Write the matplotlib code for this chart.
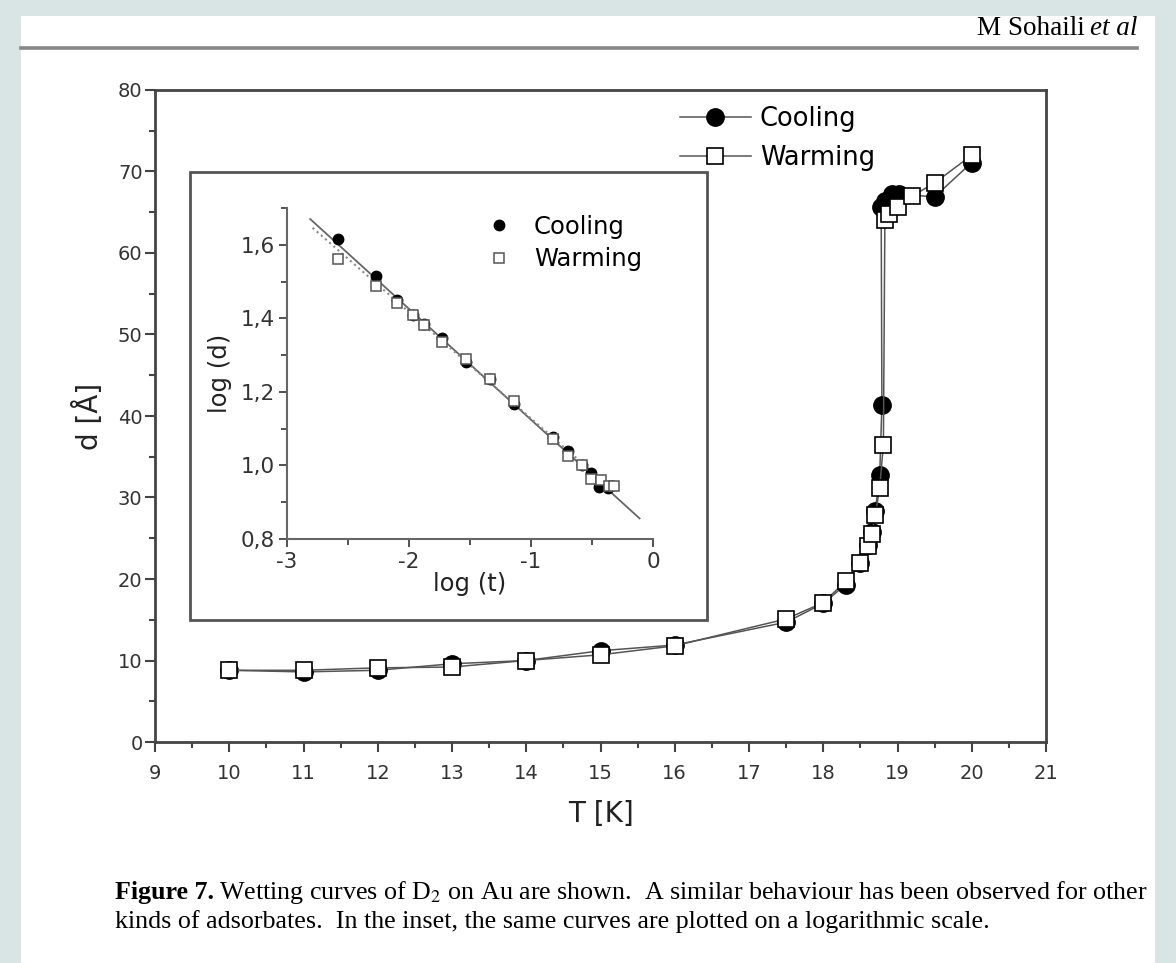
import matplotlib
matplotlib.use("Agg")
import matplotlib.pyplot as plt
from matplotlib.lines import Line2D
from matplotlib.patches import Rectangle
from matplotlib.ticker import MultipleLocator, FuncFormatter

W, H = 1176, 963

# main panel: d [A] vs T [K]
T_cool = [10, 11, 12, 13, 14, 15, 16, 17.5, 18, 18.3, 18.5, 18.6, 18.65, 18.7,
          18.76, 18.79, 18.78, 18.83, 18.92, 19.02, 19.5, 20]
d_cool = [8.8, 8.6, 8.8, 9.6, 10.0, 11.2, 11.9, 14.7, 17.0, 19.3, 22.0, 24.2, 25.8, 28.3,
          32.7, 41.3, 65.6, 66.4, 67.2, 67.2, 66.9, 71.1]
T_warm = [10, 11, 12, 13, 14, 15, 16, 17.5, 18, 18.3, 18.5, 18.6, 18.65, 18.7,
          18.76, 18.81, 18.83, 18.88, 19.0, 19.2, 19.5, 20]
d_warm = [8.8, 8.8, 9.1, 9.2, 10.0, 10.7, 11.8, 15.1, 17.1, 19.7, 22.0, 24.0, 25.5, 27.8,
          31.2, 36.5, 64.0, 64.8, 65.6, 67.0, 68.6, 72.0]

# inset: log(d) vs log(t)
lt_cool = [-2.58, -2.27, -2.10, -1.97, -1.88, -1.727, -1.535, -1.34, -1.14, -0.817,
           -0.694, -0.585, -0.508, -0.44, -0.37]
ld_cool = [1.616, 1.514, 1.450, 1.408, 1.385, 1.346, 1.282, 1.235, 1.167, 1.077,
           1.040, 1.001, 0.980, 0.942, 0.938]
lt_warm = [-2.58, -2.27, -2.10, -1.97, -1.88, -1.727, -1.535, -1.34, -1.14, -0.817,
           -0.694, -0.585, -0.508, -0.43, -0.36, -0.32]
ld_warm = [1.561, 1.489, 1.443, 1.410, 1.383, 1.337, 1.290, 1.235, 1.176, 1.072,
           1.027, 1.001, 0.963, 0.960, 0.945, 0.943]
fit_cool_x = [-2.81, -0.11]
fit_cool_y = [1.670, 0.856]
fit_warm_x = [-2.79, -0.30]
fit_warm_y = [1.646, 0.925]

plt.rcParams["axes.unicode_minus"] = False
plt.rcParams["mathtext.fontset"] = "stix"
SANS = "DejaVu Sans"
SERIF = "Liberation Serif"
AX = "#444444"
LN = "#555555"

fig = plt.figure(figsize=(W / 100, H / 100), dpi=100)
fig.patch.set_facecolor("#d9e4e4")
fig.add_artist(Rectangle((21 / W, 0), (1155 - 21) / W, (H - 16) / H,
                         transform=fig.transFigure, facecolor="white",
                         edgecolor="none", zorder=-5))

# header
fig.add_artist(Line2D([21 / W, 1137 / W], [1 - 48 / H] * 2, transform=fig.transFigure,
                      color="#888888", lw=2.6))
r = fig.canvas.get_renderer()
t_et = fig.text(1137 / W, 1 - 35 / H, "et al", family=SERIF, style="italic",
                fontsize=19.5, ha="right", va="baseline")
x0 = t_et.get_window_extent(r).x0
fig.text((x0 - 5) / W, 1 - 35 / H, "M Sohaili", family=SERIF, fontsize=19.5,
         ha="right", va="baseline")

# main axes
ax = fig.add_axes([155 / W, 1 - 742 / H, 891 / W, 652 / H])
ax.plot(T_cool, d_cool, "-", color=LN, lw=1.1, marker="o", ms=12.5,
        mfc="black", mec="black", zorder=3)
ax.plot(T_warm, d_warm, "-", color=LN, lw=1.1, marker="s", ms=11,
        mfc="white", mec="black", mew=1.2, zorder=4)
ax.set_xlim(9, 21)
ax.set_ylim(0, 80)
ax.xaxis.set_major_locator(MultipleLocator(1))
ax.xaxis.set_minor_locator(MultipleLocator(0.5))
ax.yaxis.set_major_locator(MultipleLocator(10))
ax.yaxis.set_minor_locator(MultipleLocator(5))
ax.tick_params(which="both", direction="out", color=AX, width=1.5,
               labelsize=14, labelcolor="#333333")
ax.tick_params(which="major", length=7)
ax.tick_params(which="minor", length=4)
ax.tick_params(axis="x", pad=9)
ax.tick_params(axis="y", pad=2)
for s in ax.spines.values():
    s.set_color(AX)
    s.set_linewidth(2)
ax.set_xlabel("T [K]", family=SANS, fontsize=20, color="#222222", labelpad=12)
ax.set_ylabel("d [Å]", family=SANS, fontsize=20, color="#222222", labelpad=10)

handles = [
    Line2D([], [], color=LN, lw=1.1, marker="o", ms=12.5, mfc="black", mec="black"),
    Line2D([], [], color=LN, lw=1.1, marker="s", ms=11, mfc="white", mec="black", mew=1.2),
]
ax.legend(handles, ["Cooling", "Warming"], loc="upper left",
          bbox_to_anchor=(680 / W, 1 - 106 / H), bbox_transform=fig.transFigure,
          frameon=False, borderpad=0, borderaxespad=0, handlelength=2.75,
          handletextpad=0.35, labelspacing=0.5,
          prop={"family": SANS, "size": 18.5})

# inset box and axes
fig.add_artist(Rectangle((190 / W, 1 - 620 / H), (707 - 190) / W, (620 - 172) / H,
                         transform=fig.transFigure, facecolor="white",
                         edgecolor=LN, lw=2, zorder=1))
ins = fig.add_axes([287 / W, 1 - 539 / H, 366 / W, 331 / H], zorder=2)
ins.patch.set_alpha(0)
ins.plot(fit_cool_x, fit_cool_y, "-", color="#666666", lw=1.3, zorder=2)
ins.plot(fit_warm_x, fit_warm_y, ":", color="#888888", lw=1.5, zorder=2)
ins.plot(lt_cool, ld_cool, "o", ms=7.5, mfc="black", mec="black", zorder=3,
         label="Cooling")
ins.plot(lt_warm, ld_warm, "s", ms=6.5, mfc="white", mec="#555555", mew=1.1,
         zorder=4, label="Warming")
ins.set_xlim(-3, 0)
ins.set_ylim(0.8, 1.7)
ins.xaxis.set_major_locator(MultipleLocator(1))
ins.xaxis.set_minor_locator(MultipleLocator(0.5))
ins.yaxis.set_major_locator(MultipleLocator(0.2))
ins.yaxis.set_minor_locator(MultipleLocator(0.1))
ins.yaxis.set_major_formatter(FuncFormatter(lambda v, p: f"{v:.1f}".replace(".", ",")))
ins.xaxis.set_major_formatter(FuncFormatter(lambda v, p: f"{v:.0f}"))
ins.tick_params(which="both", direction="out", color=AX, width=1.3,
                labelsize=15.5, labelcolor="#333333", pad=3)
ins.tick_params(which="major", length=6)
ins.tick_params(which="minor", length=4)
ins.spines["top"].set_visible(False)
ins.spines["right"].set_visible(False)
for s in ("left", "bottom"):
    ins.spines[s].set_color("#666666")
    ins.spines[s].set_linewidth(1.5)
ins.set_xlabel("log (t)", family=SANS, fontsize=17.5, color="#222222", labelpad=0)
ins.set_ylabel("log (d)", family=SANS, fontsize=17.5, color="#222222", labelpad=6)
ins.legend(loc="upper left", bbox_to_anchor=(490 / W, 1 - 215 / H),
           bbox_transform=fig.transFigure, frameon=False, borderpad=0,
           borderaxespad=0, handlelength=0.7, handletextpad=1.1,
           labelspacing=0.34, numpoints=1, prop={"family": SANS, "size": 17.5})

# caption
CFS = 18.7
b = fig.text(115 / W, 1 - 899 / H, "Figure 7.", family=SERIF, fontweight="bold",
             fontsize=CFS, va="baseline")
bx = b.get_window_extent(r).x1
fig.text((bx + 5) / W, 1 - 899 / H,
         "Wetting curves of D$_2$ on Au are shown.  A similar behaviour has been "
         "observed for other", family=SERIF, fontsize=CFS, va="baseline")
fig.text(115 / W, 1 - 928 / H,
         "kinds of adsorbates.  In the inset, the same curves are plotted on a "
         "logarithmic scale.", family=SERIF, fontsize=CFS, va="baseline")

fig.savefig("out.png", dpi=100, facecolor=fig.get_facecolor())
